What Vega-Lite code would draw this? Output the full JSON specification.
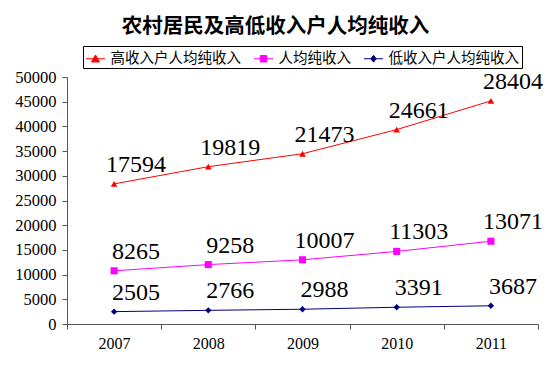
{
  "$schema": "https://vega.github.io/schema/vega-lite/v6.json",
  "width": 471,
  "height": 247,
  "autosize": {"type": "none"},
  "padding": {"left": 67, "top": 77, "right": 17, "bottom": 44},
  "background": "white",
  "title": {
    "text": "农村居民及高低收入户人均纯收入",
    "font": "Noto Sans CJK SC",
    "fontSize": 20.5,
    "fontWeight": "bold",
    "color": "black",
    "anchor": "middle",
    "dx": -27,
    "offset": 8
  },
  "data": {
    "values": [
      {"year": "2007", "series": "高收入户人均纯收入", "value": 17594},
      {"year": "2008", "series": "高收入户人均纯收入", "value": 19819},
      {"year": "2009", "series": "高收入户人均纯收入", "value": 21473},
      {"year": "2010", "series": "高收入户人均纯收入", "value": 24661},
      {"year": "2011", "series": "高收入户人均纯收入", "value": 28404},
      {"year": "2007", "series": "人均纯收入", "value": 8265},
      {"year": "2008", "series": "人均纯收入", "value": 9258},
      {"year": "2009", "series": "人均纯收入", "value": 10007},
      {"year": "2010", "series": "人均纯收入", "value": 11303},
      {"year": "2011", "series": "人均纯收入", "value": 13071},
      {"year": "2007", "series": "低收入户人均纯收入", "value": 2505},
      {"year": "2008", "series": "低收入户人均纯收入", "value": 2766},
      {"year": "2009", "series": "低收入户人均纯收入", "value": 2988},
      {"year": "2010", "series": "低收入户人均纯收入", "value": 3391},
      {"year": "2011", "series": "低收入户人均纯收入", "value": 3687}
    ]
  },
  "transform": [
    {"stack": "value", "groupby": ["year"], "sort": [{"field": "value", "order": "ascending"}], "as": ["y0", "y1"]}
  ],
  "encoding": {
    "x": {
      "field": "year",
      "type": "ordinal",
      "scale": {"type": "band", "paddingInner": 0, "paddingOuter": 0},
      "axis": {
        "title": null,
        "labelAngle": 0,
        "tickBand": "extent",
        "labelPadding": 6,
        "tickSize": 5,
        "labelFont": "Liberation Serif",
        "labelFontSize": 16,
        "labelColor": "black",
        "domainColor": "#555555",
        "tickColor": "#555555",
        "grid": false
      }
    },
    "y": {
      "field": "y1",
      "type": "quantitative",
      "scale": {"domain": [0, 50000]},
      "axis": {
        "title": null,
        "values": [0, 5000, 10000, 15000, 20000, 25000, 30000, 35000, 40000, 45000, 50000],
        "format": "d",
        "labelFont": "Liberation Serif",
        "labelFontSize": 16.5,
        "labelColor": "black",
        "labelPadding": 6,
        "tickSize": 5,
        "domainColor": "#555555",
        "tickColor": "#555555",
        "grid": false
      }
    },
    "color": {
      "field": "series",
      "type": "nominal",
      "scale": {
        "domain": ["高收入户人均纯收入", "人均纯收入", "低收入户人均纯收入"],
        "range": ["#FF0000", "#FF00FF", "#000080"]
      },
      "legend": {
        "orient": "none",
        "legendX": 16,
        "legendY": -31,
        "direction": "horizontal",
        "title": null,
        "strokeColor": "black",
        "padding": 2.5,
        "labelFont": "Noto Sans CJK SC",
        "labelFontSize": 14.5,
        "labelColor": "black",
        "symbolSize": 361,
        "symbolType": "M-1,0L1,0",
        "columnPadding": 10,
        "labelOffset": 5,
        "symbolStrokeWidth": 1,
        "encode": {
          "symbols": {
            "update": {
              "shape": {"signal": "datum.value === '高收入户人均纯收入' ? 'M-1,0L1,0M-0.42,0.34L0,-0.4L0.42,0.34Z' : datum.value === '人均纯收入' ? 'M-1,0L1,0M-0.34,-0.34L0.34,-0.34L0.34,0.34L-0.34,0.34Z' : 'M-1,0L1,0M0,-0.36L0.28,0L0,0.36L-0.28,0Z'"},
              "fill": {"signal": "scale('color', datum.value)"},
              "stroke": {"signal": "scale('color', datum.value)"},
              "strokeWidth": {"value": 1},
              "opacity": {"value": 1}
            }
          }
        }
      }
    }
  },
  "layer": [
    {
      "mark": {"type": "line", "strokeWidth": 1}
    },
    {
      "transform": [{"filter": "datum.series === '高收入户人均纯收入'"}],
      "mark": {"type": "point", "filled": true, "opacity": 1, "size": 45, "shape": "triangle-up"}
    },
    {
      "transform": [{"filter": "datum.series === '人均纯收入'"}],
      "mark": {"type": "point", "filled": true, "opacity": 1, "size": 50, "shape": "square"}
    },
    {
      "transform": [{"filter": "datum.series === '低收入户人均纯收入'"}],
      "mark": {"type": "point", "filled": true, "opacity": 1, "size": 40, "shape": "diamond"}
    },
    {
      "mark": {"type": "text", "font": "Liberation Serif", "fontSize": 24, "dx": 22, "dy": -19, "baseline": "middle", "align": "center", "color": "black"},
      "encoding": {
        "text": {"field": "value", "type": "quantitative", "format": "d"},
        "color": {"value": "black"}
      }
    }
  ],
  "config": {
    "view": {"stroke": null}
  }
}
